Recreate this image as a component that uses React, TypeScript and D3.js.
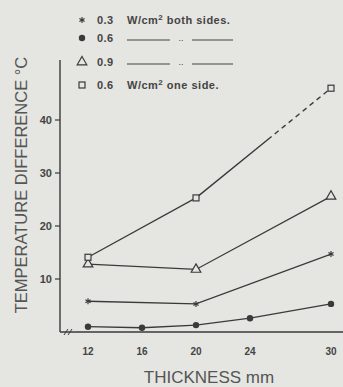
import { useEffect, useRef } from 'react';
import * as d3 from 'd3';

// thickness (mm) and temperature difference (°C)
const thickness = [12, 16, 20, 24, 30];
const starX = [12, 20, 30];
const starY = [5.8, 5.3, 14.7];
const dotX = [12, 16, 20, 24, 30];
const dotY = [1.0, 0.8, 1.3, 2.6, 5.3];
const triX = [12, 20, 30];
const triY = [12.8, 11.8, 25.6];
const sqX = [12, 20, 30];
const sqY = [14.1, 25.3, 46];
const yTicks = [10, 20, 30, 40];

const legendRows = [
    { sym: 'star', value: '0.3', text: 'both' },
    { sym: 'dot', value: '0.6', text: 'ditto' },
    { sym: 'tri', value: '0.9', text: 'ditto' },
    { sym: 'sq', value: '0.6', text: 'one' },
];

const INK = '#3a3a3a';
const BG = '#e5e5e1';

const App = () => {
    const svgRef = useRef(null);

    useEffect(() => {
        const svg = d3.select(svgRef.current);
        svg.selectAll('*').remove();

        const x = d3.scaleLinear().domain([12, 30]).range([88, 331]);
        const y = d3.scaleLinear().domain([0, 40]).range([332, 120]);
        const font = "'Liberation Sans', Arial, sans-serif";

        svg.append('rect').attr('width', 343).attr('height', 387).attr('fill', BG);

        // axes
        svg.append('line').attr('x1', 60).attr('x2', 60).attr('y1', 60).attr('y2', y(0))
            .attr('stroke', INK).attr('stroke-width', 1.4);
        svg.append('line').attr('x1', 60).attr('x2', 343).attr('y1', y(0)).attr('y2', y(0))
            .attr('stroke', INK).attr('stroke-width', 1.4);
        // axis break
        [0, 4].forEach(o => {
            svg.append('line').attr('x1', 64 + o).attr('x2', 68 + o).attr('y1', y(0) + 3).attr('y2', y(0) - 3)
                .attr('stroke', INK).attr('stroke-width', 1);
        });

        const yAxis = svg.append('g');
        yTicks.forEach(t => {
            yAxis.append('line').attr('x1', 55).attr('x2', 60).attr('y1', y(t)).attr('y2', y(t))
                .attr('stroke', INK).attr('stroke-width', 1.2);
            yAxis.append('text').attr('x', 52).attr('y', y(t) + 4).attr('text-anchor', 'end')
                .attr('font-family', font).attr('font-size', 11).attr('font-weight', 'bold')
                .attr('fill', '#444').text(t);
        });

        thickness.forEach(t => {
            svg.append('text').attr('x', x(t)).attr('y', 355).attr('text-anchor', 'middle')
                .attr('font-family', font).attr('font-size', 10).attr('font-weight', 'bold')
                .attr('fill', '#444').text(t);
        });

        svg.append('text').attr('x', 209).attr('y', 383).attr('text-anchor', 'middle')
            .attr('font-family', font).attr('font-size', 17).attr('fill', '#555')
            .text('THICKNESS mm');
        svg.append('text').attr('transform', 'translate(27,185) rotate(-90)').attr('text-anchor', 'middle')
            .attr('font-family', font).attr('font-size', 16.5).attr('fill', '#555')
            .text('TEMPERATURE DIFFERENCE °C');

        const line = d3.line().x(d => x(d[0])).y(d => y(d[1]));
        const drawLine = (xs, ys) => {
            svg.append('path').attr('d', line(xs.map((v, i) => [v, ys[i]])))
                .attr('fill', 'none').attr('stroke', INK).attr('stroke-width', 1.3);
        };

        // markers
        const marker = (sym, cx, cy) => {
            if (sym === 'star') {
                const g = svg.append('g').attr('transform', `translate(${cx},${cy})`);
                [0, 60, 120].forEach(a => {
                    g.append('line').attr('x1', 0).attr('x2', 0).attr('y1', -3).attr('y2', 3)
                        .attr('transform', `rotate(${a})`).attr('stroke', INK).attr('stroke-width', 1.2);
                });
            } else if (sym === 'dot') {
                svg.append('circle').attr('cx', cx).attr('cy', cy).attr('r', 3.2).attr('fill', INK);
            } else if (sym === 'tri') {
                svg.append('path').attr('d', d3.symbol(d3.symbolTriangle, 40)())
                    .attr('transform', `translate(${cx},${cy})`)
                    .attr('fill', BG).attr('stroke', INK).attr('stroke-width', 1.2);
            } else {
                svg.append('rect').attr('x', cx - 3).attr('y', cy - 3).attr('width', 6).attr('height', 6)
                    .attr('fill', BG).attr('stroke', INK).attr('stroke-width', 1.2);
            }
        };

        drawLine(starX, starY);
        drawLine(dotX, dotY);
        drawLine(triX, triY);

        // one-side series: solid, last segment turns dashed part way
        drawLine(sqX.slice(0, 2), sqY.slice(0, 2));
        const x0 = x(sqX[1]), y0 = y(sqY[1]), x1 = x(sqX[2]), y1 = y(sqY[2]);
        const segLen = Math.hypot(x1 - x0, y1 - y0);
        const solid = segLen * 0.56;
        const dashes = [solid, 4];
        for (let s = solid + 4; s < segLen + 10; s += 9) dashes.push(5, 4);
        svg.append('line').attr('x1', x0).attr('y1', y0).attr('x2', x1).attr('y2', y1)
            .attr('stroke', INK).attr('stroke-width', 1.4)
            .attr('stroke-dasharray', dashes.join(' '));

        starX.forEach((v, i) => marker('star', x(v), y(starY[i])));
        dotX.forEach((v, i) => marker('dot', x(v), y(dotY[i])));
        triX.forEach((v, i) => marker('tri', x(v), y(triY[i])));
        sqX.forEach((v, i) => marker('sq', x(v), y(sqY[i])));

        // legend
        const rowY = [20, 38, 62, 85];
        legendRows.forEach((r, i) => {
            const cy = rowY[i];
            marker(r.sym, 82, cy);
            svg.append('text').attr('x', 97).attr('y', cy + 4)
                .attr('font-family', font).attr('font-size', 11).attr('font-weight', 'bold')
                .attr('fill', '#444').attr('letter-spacing', 0.4).text(r.value);
            if (r.text === 'ditto') {
                [[127, 170], [192, 233]].forEach(([a, b]) => {
                    svg.append('line').attr('x1', a).attr('x2', b).attr('y1', cy + 2).attr('y2', cy + 2)
                        .attr('stroke', '#444').attr('stroke-width', 1.2);
                });
                svg.append('text').attr('x', 181).attr('y', cy + 3).attr('text-anchor', 'middle')
                    .attr('font-family', font).attr('font-size', 9).attr('fill', '#444').text('..');
            } else {
                const t = svg.append('text').attr('x', 127).attr('y', cy + 4)
                    .attr('font-family', font).attr('font-size', 11).attr('font-weight', 'bold')
                    .attr('fill', '#444').attr('letter-spacing', 0.5);
                t.append('tspan').text('W/cm');
                t.append('tspan').attr('dy', -4).attr('font-size', 8).text('2');
                t.append('tspan').attr('dy', 4).text(r.text === 'both' ? ' both sides.' : ' one side.');
            }
        });
    }, []);

    return (
        <svg ref={svgRef} width={343} height={387}
            style={{ position: 'absolute', left: 0, top: 0 }} />
    );
};

export default App;
